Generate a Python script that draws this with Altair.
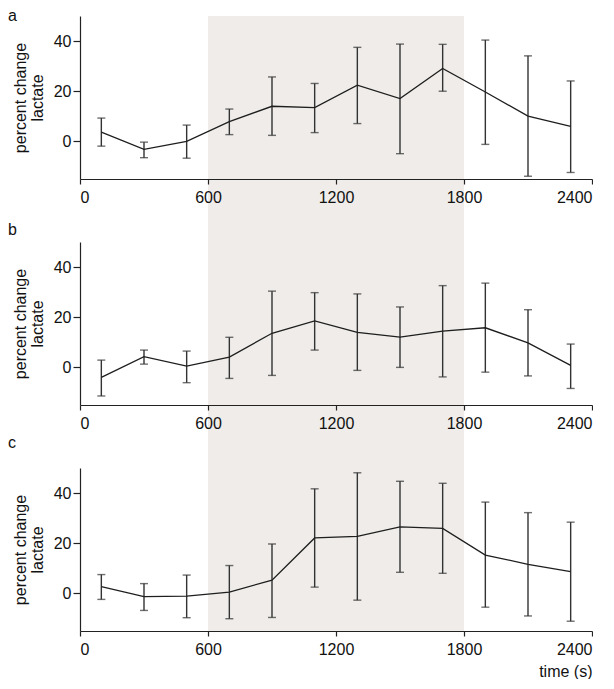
import altair as alt
import pandas as pd

# ---- data ----
times = [100, 300, 500, 700, 900, 1100, 1300, 1500, 1700, 1900, 2100, 2300]
panel_labels = ["a", "b", "c"]

mean_a = [3.7, -3.2, 0.0, 7.9, 14.0, 13.5, 22.4, 17.1, 29.1, 19.7, 10.1, 6.0]
hi_a = [9.3, -0.3, 6.5, 12.9, 25.7, 23.1, 37.5, 38.8, 38.7, 40.4, 34.1, 24.1]
lo_a = [-1.9, -6.5, -6.7, 2.7, 2.4, 3.5, 7.1, -4.9, 20.0, -1.2, -13.9, -12.4]

mean_b = [-4.0, 4.3, 0.5, 4.1, 13.6, 18.5, 14.0, 12.1, 14.5, 15.8, 9.8, 0.8]
hi_b = [2.9, 6.9, 6.5, 12.0, 30.4, 29.8, 29.3, 24.1, 32.6, 33.6, 23.0, 9.3]
lo_b = [-11.4, 1.3, -6.1, -4.4, -3.2, 6.9, -1.2, 0.0, -3.8, -1.9, -3.4, -8.4]

mean_c = [2.7, -1.3, -1.1, 0.5, 5.3, 22.1, 22.7, 26.5, 25.9, 15.3, 11.6, 8.7]
hi_c = [7.5, 3.9, 7.3, 11.1, 19.7, 41.7, 48.1, 44.7, 43.9, 36.4, 32.2, 28.4]
lo_c = [-2.4, -6.8, -9.7, -10.1, -9.6, 2.5, -2.7, 8.4, 8.0, -5.5, -9.0, -11.1]

shade_start = [600]
shade_end = [1800]
x_ticks = [0, 600, 1200, 1800, 2400]
y_ticks = [0, 20, 40]
x_domain = [0, 2400]
y_domain = [-15, 50]
y_title = ["percent change", "lactate"]
x_title = "time (s)"

# ---- layout ----
W, H = 512, 163
GAP = 63
FONT = "Liberation Sans"
SHADE = "#efece9"
label_y = [5, -7, -20]


def panel(idx, mean, lo, hi, last):
    df = pd.DataFrame({"t": times, "mean": mean, "lo": lo, "hi": hi})
    xs = alt.Scale(domain=x_domain, nice=False, zero=False)
    ys = alt.Scale(domain=y_domain, nice=False, zero=False)
    xt = x_title if last else None
    xax = alt.Axis(values=x_ticks, format="d", titleAnchor="end", titlePadding=6, zindex=2)
    yax = alt.Axis(values=y_ticks, format="d", titlePadding=8, titleLineHeight=17, zindex=2)

    shade = alt.Chart(pd.DataFrame({"s": shade_start, "e": shade_end})).mark_rect(
        color=SHADE
    ).encode(
        x=alt.X("s:Q", scale=xs, axis=xax, title=xt),
        x2="e:Q",
        y=alt.value(0),
        y2=alt.value(H if last else H + GAP),
    )
    base = alt.Chart(df)
    bars = base.mark_rule(color="#333333", strokeWidth=1.4).encode(
        x=alt.X("t:Q", scale=xs, axis=xax, title=xt),
        y=alt.Y("lo:Q", scale=ys, axis=yax, title=y_title),
        y2="hi:Q",
    )
    caps = base.transform_fold(["lo", "hi"]).mark_tick(
        color="#333333", orient="horizontal", size=8, thickness=1.4
    ).encode(
        x=alt.X("t:Q", scale=xs, axis=xax, title=xt),
        y=alt.Y("value:Q", scale=ys, axis=yax, title=y_title),
    )
    line = base.mark_line(color="#1e1e1e", strokeWidth=1.3).encode(
        x=alt.X("t:Q", scale=xs, axis=xax, title=xt),
        y=alt.Y("mean:Q", scale=ys, axis=yax, title=y_title),
    )
    lab = alt.Chart(pd.DataFrame({"lab": [panel_labels[idx]]})).mark_text(
        align="left", baseline="alphabetic", fontSize=16, font=FONT, color="#111111"
    ).encode(text="lab:N", x=alt.value(-72), y=alt.value(label_y[idx]))

    return alt.layer(shade, bars, caps, line, lab).properties(width=W, height=H)


chart = alt.vconcat(
    panel(0, mean_a, lo_a, hi_a, False),
    panel(1, mean_b, lo_b, hi_b, False),
    panel(2, mean_c, lo_c, hi_c, True),
    spacing=GAP,
    bounds="flush",
).properties(
    padding=0
).configure_view(
    stroke=None
).configure_axis(
    grid=False,
    domainColor="#222222",
    tickColor="#222222",
    domainWidth=1.2,
    tickWidth=1.2,
    labelColor="#111111",
    titleColor="#111111",
    labelFont=FONT,
    titleFont=FONT,
    labelFontSize=16,
    titleFontSize=16,
    titleFontWeight="normal",
).configure_axisX(
    tickSize=5, labelPadding=5
).configure_axisY(
    tickSize=7, labelPadding=2
)

chart.save("out.html", embed_options={"renderer": "svg", "actions": False})
